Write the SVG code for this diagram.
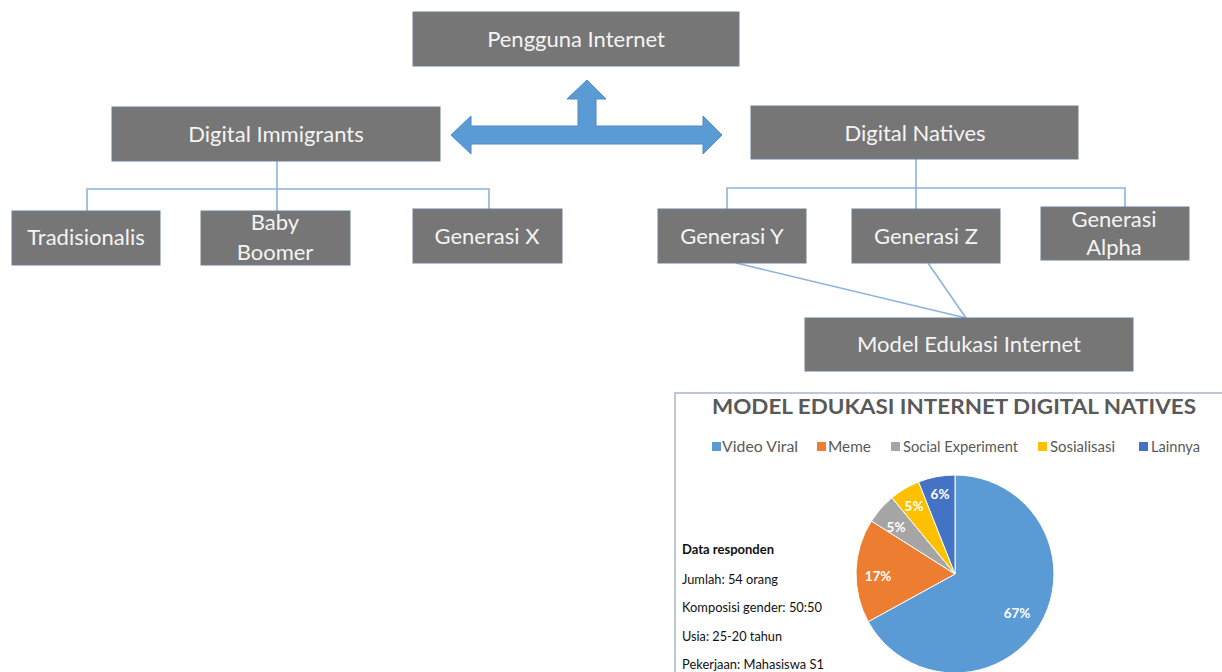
<svg xmlns="http://www.w3.org/2000/svg" width="1222" height="672" viewBox="0 0 1222 672">
  <defs>
    <style>
      .box { fill: #767676; stroke: #6d8096; stroke-width: 1; }
      .lbl { font-family: Lato, "Liberation Sans", sans-serif; font-size: 22px; fill: #f4f4f4; text-anchor: middle; }
      .conn { fill: none; stroke: #8db3dc; stroke-width: 1.6; }
      .arrow { fill: #5b9bd5; stroke: #4f8ac4; stroke-width: 1; }
      .legend { font-family: Lato, "Liberation Sans", sans-serif; font-size: 14.5px; fill: #595959; }
      .pct { font-family: Lato, "Liberation Sans", sans-serif; font-size: 13.5px; font-weight: bold; fill: #ffffff; text-anchor: middle; }
      .info { font-family: Lato, "Liberation Sans", sans-serif; font-size: 13px; fill: #111111; }
      .slice { stroke: #ffffff; stroke-width: 1; }
    </style>
  </defs>
  <rect width="1222" height="672" fill="#ffffff"/>

  <!-- connectors -->
  <g id="connectors">
    <polyline class="conn" points="277,161 277,189"/>
    <polyline class="conn" points="87,211 87,189 489,189 489,209"/>
    <polyline class="conn" points="277,189 277,211"/>
    <polyline class="conn" points="916,159 916,263"/>
    <polyline class="conn" points="727,209 727,188 1125,188 1125,207"/>
    <line class="conn" x1="736" y1="263" x2="966" y2="318"/>
    <line class="conn" x1="928" y1="263" x2="966" y2="318"/>
    <!-- block arrow: left/right with upward branch -->
    <path class="arrow" d="M451,135 L471,116 L471,126 L578,126 L578,99 L567,99 L587,80 L606,99 L596,99 L596,126 L703,126 L703,116 L722,135 L703,154 L703,144 L471,144 L471,154 Z"/>
  </g>

  <g id="pengguna-internet">
    <rect class="box" x="413" y="12" width="326" height="54"/>
    <text class="lbl" x="576" y="47">Pengguna Internet</text>
  </g>
  <g id="digital-immigrants">
    <rect class="box" x="112" y="107" width="328" height="54"/>
    <text class="lbl" x="276" y="142">Digital Immigrants</text>
  </g>
  <g id="digital-natives">
    <rect class="box" x="751" y="106" width="327" height="53"/>
    <text class="lbl" x="915" y="141">Digital Natives</text>
  </g>
  <g id="tradisionalis">
    <rect class="box" x="12" y="211" width="148" height="54"/>
    <text class="lbl" x="86" y="245">Tradisionalis</text>
  </g>
  <g id="baby-boomer">
    <rect class="box" x="201" y="211" width="149" height="54"/>
    <text class="lbl" x="275" y="230">Baby</text>
    <text class="lbl" x="275" y="260">Boomer</text>
  </g>
  <g id="generasi-x">
    <rect class="box" x="413" y="209" width="149" height="54"/>
    <text class="lbl" x="487" y="244">Generasi X</text>
  </g>
  <g id="generasi-y">
    <rect class="box" x="658" y="209" width="148" height="54"/>
    <text class="lbl" x="732" y="244">Generasi Y</text>
  </g>
  <g id="generasi-z">
    <rect class="box" x="852" y="209" width="148" height="54"/>
    <text class="lbl" x="926" y="244">Generasi Z</text>
  </g>
  <g id="generasi-alpha">
    <rect class="box" x="1041" y="207" width="148" height="53"/>
    <text class="lbl" x="1114" y="227">Generasi</text>
    <text class="lbl" x="1114" y="255">Alpha</text>
  </g>
  <g id="model-edukasi">
    <rect class="box" x="805" y="318" width="328" height="53"/>
    <text class="lbl" x="969" y="352">Model Edukasi Internet</text>
  </g>

  <!-- chart panel -->
  <g id="chart">
    <rect x="675" y="393" width="560" height="300" fill="#ffffff" stroke="#a9b6c6" stroke-width="1.5"/>
    <text x="954" y="414" text-anchor="middle" font-family="Lato, 'Liberation Sans', sans-serif" font-size="21" font-weight="bold" fill="#595959" textLength="484" lengthAdjust="spacingAndGlyphs">MODEL EDUKASI INTERNET DIGITAL NATIVES</text>

    <g id="legend">
      <rect x="712" y="442" width="9" height="9" fill="#5b9bd5"/>
      <text class="legend" x="722" y="452" textLength="76" lengthAdjust="spacingAndGlyphs">Video Viral</text>
      <rect x="817" y="442" width="9" height="9" fill="#ed7d31"/>
      <text class="legend" x="828" y="452" textLength="43" lengthAdjust="spacingAndGlyphs">Meme</text>
      <rect x="891" y="442" width="9" height="9" fill="#a5a5a5"/>
      <text class="legend" x="903" y="452" textLength="115" lengthAdjust="spacingAndGlyphs">Social Experiment</text>
      <rect x="1038" y="442" width="9" height="9" fill="#ffc000"/>
      <text class="legend" x="1050" y="452" textLength="65" lengthAdjust="spacingAndGlyphs">Sosialisasi</text>
      <rect x="1139" y="442" width="9" height="9" fill="#4472c4"/>
      <text class="legend" x="1151" y="452" textLength="49" lengthAdjust="spacingAndGlyphs">Lainnya</text>
    </g>

    <g id="pie">
      <path class="slice" fill="#5b9bd5" d="M955,574 L955,475 A99,99 0 1 1 868.2,621.7 Z"/>
      <path class="slice" fill="#ed7d31" d="M955,574 L868.2,621.7 A99,99 0 0 1 871.4,521.0 Z"/>
      <path class="slice" fill="#a5a5a5" d="M955,574 L871.4,521.0 A99,99 0 0 1 891.9,497.7 Z"/>
      <path class="slice" fill="#ffc000" d="M955,574 L891.9,497.7 A99,99 0 0 1 918.6,481.9 Z"/>
      <path class="slice" fill="#4472c4" d="M955,574 L918.6,481.9 A99,99 0 0 1 955,475 Z"/>
      <text class="pct" x="1017" y="618">67%</text>
      <text class="pct" x="878" y="581">17%</text>
      <text class="pct" x="896" y="532">5%</text>
      <text class="pct" x="914" y="511">5%</text>
      <text class="pct" x="940" y="499">6%</text>
    </g>

    <g id="respondent-data">
      <text class="info" x="682" y="554" font-weight="bold" textLength="92" lengthAdjust="spacingAndGlyphs">Data responden</text>
      <text class="info" x="682" y="584" textLength="96" lengthAdjust="spacingAndGlyphs">Jumlah: 54 orang</text>
      <text class="info" x="682" y="612" textLength="140" lengthAdjust="spacingAndGlyphs">Komposisi gender: 50:50</text>
      <text class="info" x="682" y="641" textLength="100" lengthAdjust="spacingAndGlyphs">Usia: 25-20 tahun</text>
      <text class="info" x="682" y="669" textLength="142" lengthAdjust="spacingAndGlyphs">Pekerjaan: Mahasiswa S1</text>
    </g>
  </g>
</svg>
